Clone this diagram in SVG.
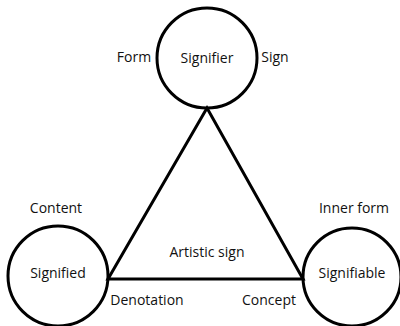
<svg xmlns="http://www.w3.org/2000/svg" width="400" height="326" viewBox="0 0 400 326">
<style>
text{font-family:"Open Sans","Noto Sans","Liberation Sans",sans-serif;font-size:14px;fill:#111;text-anchor:middle}
.c{fill:none;stroke:#000;stroke-width:3}
.l{fill:none;stroke:#000;stroke-width:3;stroke-linejoin:miter}
</style>
<rect width="400" height="326" fill="#fff"/>
<g id="connectors">
<path class="l" d="M207,108 L108,279 L303,279 Z"/>
</g>
<g id="signifier">
<circle class="c" cx="207" cy="58" r="50"/>
<text x="207" y="63">Signifier</text>
</g>
<g id="signified">
<circle class="c" cx="58" cy="276" r="50"/>
<text x="58" y="278">Signified</text>
</g>
<g id="signifiable">
<circle class="c" cx="352" cy="277" r="49"/>
<text x="352" y="278">Signifiable</text>
</g>
<g id="labels">
<text x="134" y="62">Form</text>
<text x="275" y="62">Sign</text>
<text x="56" y="213">Content</text>
<text x="354" y="213">Inner form</text>
<text x="207" y="257">Artistic sign</text>
<text x="147" y="305">Denotation</text>
<text x="269" y="305">Concept</text>
</g>
</svg>
